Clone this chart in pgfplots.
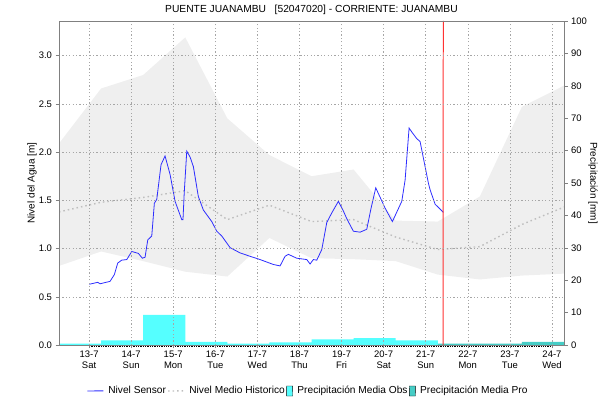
\documentclass[border=0pt]{standalone}
\usepackage{fontspec}
\setmainfont{Liberation Sans}
\usepackage{pgfplots}
\pgfplotsset{compat=1.18}
\definecolor{sensor}{RGB}{45,45,255}
\definecolor{obs}{RGB}{85,255,255}
\definecolor{pro}{RGB}{70,205,198}
\definecolor{med}{RGB}{190,190,190}
\definecolor{nowred}{RGB}{255,50,50}
\definecolor{axgray}{RGB}{128,128,128}
\definecolor{band}{RGB}{239,239,239}
\begin{document}
\fontsize{10}{12}\selectfont
\begin{tikzpicture}
\path[use as bounding box] (0,0) rectangle (603bp,401bp);
\pgfplotsset{
  base/.style={
    at={(59bp,56bp)}, anchor=south west, scale only axis,
    width=505bp, height=324bp,
    xmin=-0.714, xmax=11.286,
    tick align=outside, major tick length=3.5bp,
    tick style={axgray, line width=0.5pt},
    axis line style={axgray, line width=0.6pt},
    /pgf/number format/assume math mode=true,
    tick label style={font=\fontsize{9.5}{10.8}\selectfont},
    label style={font=\fontsize{10.2}{11.5}\selectfont},
  }
}
% right axis: precipitation bars
\begin{axis}[base,
  ymin=0, ymax=100,
  axis y line*=right, axis x line=none,
  ytick={0,10,...,100},
  every axis y label/.style={at={(rel axis cs:1,0.5)}, xshift=29bp, rotate=-90, anchor=center},
  ylabel={Precipitación [mm]},
]
\addplot[const plot mark left, fill=obs, draw=none] coordinates {
(-0.714,0.4) (0.286,1.4) (1.286,9.3) (2.286,1.0) (3.286,0.4) (4.286,0.8)
(5.286,1.7) (6.286,2.1) (7.286,1.4) (8.286,1.4)} \closedcycle;
\addplot[const plot mark left, fill=pro, draw=none] coordinates {
(8.286,0.4) (10.286,1.0) (11.286,1.0)} \closedcycle;
\end{axis}
% left axis: water level
\begin{axis}[base,
  ymin=0, ymax=3.36,
  axis on top,
  xtick pos=bottom, ytick pos=left,
  ytick={0,0.5,...,3.0},
  yticklabel style={/pgf/number format/.cd, fixed, fixed zerofill, precision=1},
  xtick={0,1,...,11},
  xticklabels={{13-7\\Sat},{14-7\\Sun},{15-7\\Mon},{16-7\\Tue},{17-7\\Wed},{18-7\\Thu},{19-7\\Fri},{20-7\\Sat},{21-7\\Sun},{22-7\\Mon},{23-7\\Tue},{24-7\\Wed}},
  xticklabel style={align=center, yshift=1bp},
  minor x tick num=23,
  minor tick length=2bp,
  minor tick style={black, line width=0.4pt},
  grid=major,
  major grid style={axgray!70, line width=0.5pt, dash pattern=on 1.2bp off 2.2bp},
  every axis y label/.style={at={(rel axis cs:0,0.5)}, xshift=-27bp, rotate=90, anchor=center},
  ylabel={Nivel del Agua [m]},
  legend style={at={(0.5,0)}, yshift=-46bp, xshift=-3.5bp, anchor=center, draw=none, fill=none,
    legend columns=4, font=\fontsize{10.2}{11.5}\selectfont,
    /tikz/every even column/.append style={column sep=0bp},
    /tikz/every odd column/.append style={column sep=3bp},
    nodes={inner xsep=1.5bp}},
  legend cell align=left,
]
\addlegendimage{legend image code/.code={\draw[sensor, line width=0.9pt] (0bp,0bp) -- (16bp,0.12bp);}}
\addlegendimage{legend image code/.code={\draw[med, line width=1.4pt, dash pattern=on 1.5bp off 3bp] (0bp,0bp) -- (16bp,0.12bp);}}
\addlegendimage{legend image code/.code={\path[fill=obs] (10bp,-5bp) -- (16.1bp,-5bp) -- (16bp,5bp) -- (9.9bp,5bp) -- cycle;}}
\addlegendimage{legend image code/.code={\path[fill=pro] (10bp,-5bp) -- (16.1bp,-5bp) -- (16bp,5bp) -- (9.9bp,5bp) -- cycle;}}
% historic band (upper bound forward, lower bound backward)
\addplot[fill=band, draw=none, forget plot] coordinates {
(-0.714,2.09) (0.286,2.66) (1.286,2.80) (2.286,3.19) (3.286,2.35) (4.286,1.97)
(5.286,1.75) (6.286,1.82) (7.286,1.29) (8.286,1.28) (9.286,1.54) (10.286,2.47) (11.286,2.69)
(11.286,0.74) (10.286,0.72) (9.286,0.68) (8.286,0.73) (7.286,0.87) (6.286,0.89)
(5.286,0.90) (4.286,1.11) (3.286,0.71) (2.286,0.76) (1.286,0.87) (0.286,0.97) (-0.714,0.82)} -- cycle;
% historic median
\addplot[med, line width=1.4pt, dash pattern=on 1.5bp off 3bp, forget plot] coordinates {
(-0.714,1.38) (0.286,1.48) (1.286,1.53) (2.286,1.60) (3.286,1.30) (4.286,1.45)
(5.286,1.28) (6.286,1.30) (7.286,1.12) (8.286,0.99) (9.286,1.02) (10.286,1.25) (11.286,1.43)};
% sensor
\addplot[sensor, line width=0.8pt, forget plot] coordinates {
(0.007,0.63) (0.207,0.65) (0.261,0.635) (0.499,0.66) (0.601,0.73) (0.682,0.85)
(0.777,0.88) (0.896,0.886) (1.015,0.97) (1.172,0.95) (1.267,0.90) (1.331,0.91)
(1.395,1.09) (1.490,1.13) (1.552,1.47) (1.609,1.51) (1.711,1.87) (1.806,1.96)
(1.925,1.77) (2.044,1.49) (2.203,1.30) (2.232,1.30) (2.262,1.58) (2.322,2.01)
(2.400,1.95) (2.479,1.85) (2.597,1.54) (2.716,1.40) (2.916,1.28) (3.035,1.18)
(3.154,1.13) (3.351,1.01) (3.589,0.955) (3.826,0.92) (4.064,0.886) (4.380,0.835)
(4.539,0.82) (4.658,0.92) (4.736,0.94) (4.936,0.90) (5.174,0.886) (5.252,0.84)
(5.330,0.886) (5.411,0.88) (5.530,0.99) (5.649,1.27) (5.768,1.37) (5.925,1.49)
(6.043,1.39) (6.124,1.31) (6.281,1.18) (6.440,1.17) (6.599,1.20) (6.702,1.42)
(6.813,1.63) (7.034,1.42) (7.208,1.28) (7.431,1.49) (7.510,1.71) (7.605,2.25)
(7.683,2.20) (7.788,2.14) (7.866,2.11) (8.063,1.68) (8.104,1.61) (8.223,1.46)
(8.341,1.41) (8.420,1.375)};
% current time marker
\addplot[nowred, line width=1pt, forget plot] coordinates {(8.413,0) (8.417,3.36)};
\legend{Nivel Sensor, Nivel Medio Historico, Precipitación Media Obs, Precipitación Media Pro}
\end{axis}
\node[font=\fontsize{10.3}{12}\selectfont] at (311.5bp,391bp) {PUENTE JUANAMBU\ \ \ [52047020] - CORRIENTE: JUANAMBU};
\end{tikzpicture}
\end{document}
